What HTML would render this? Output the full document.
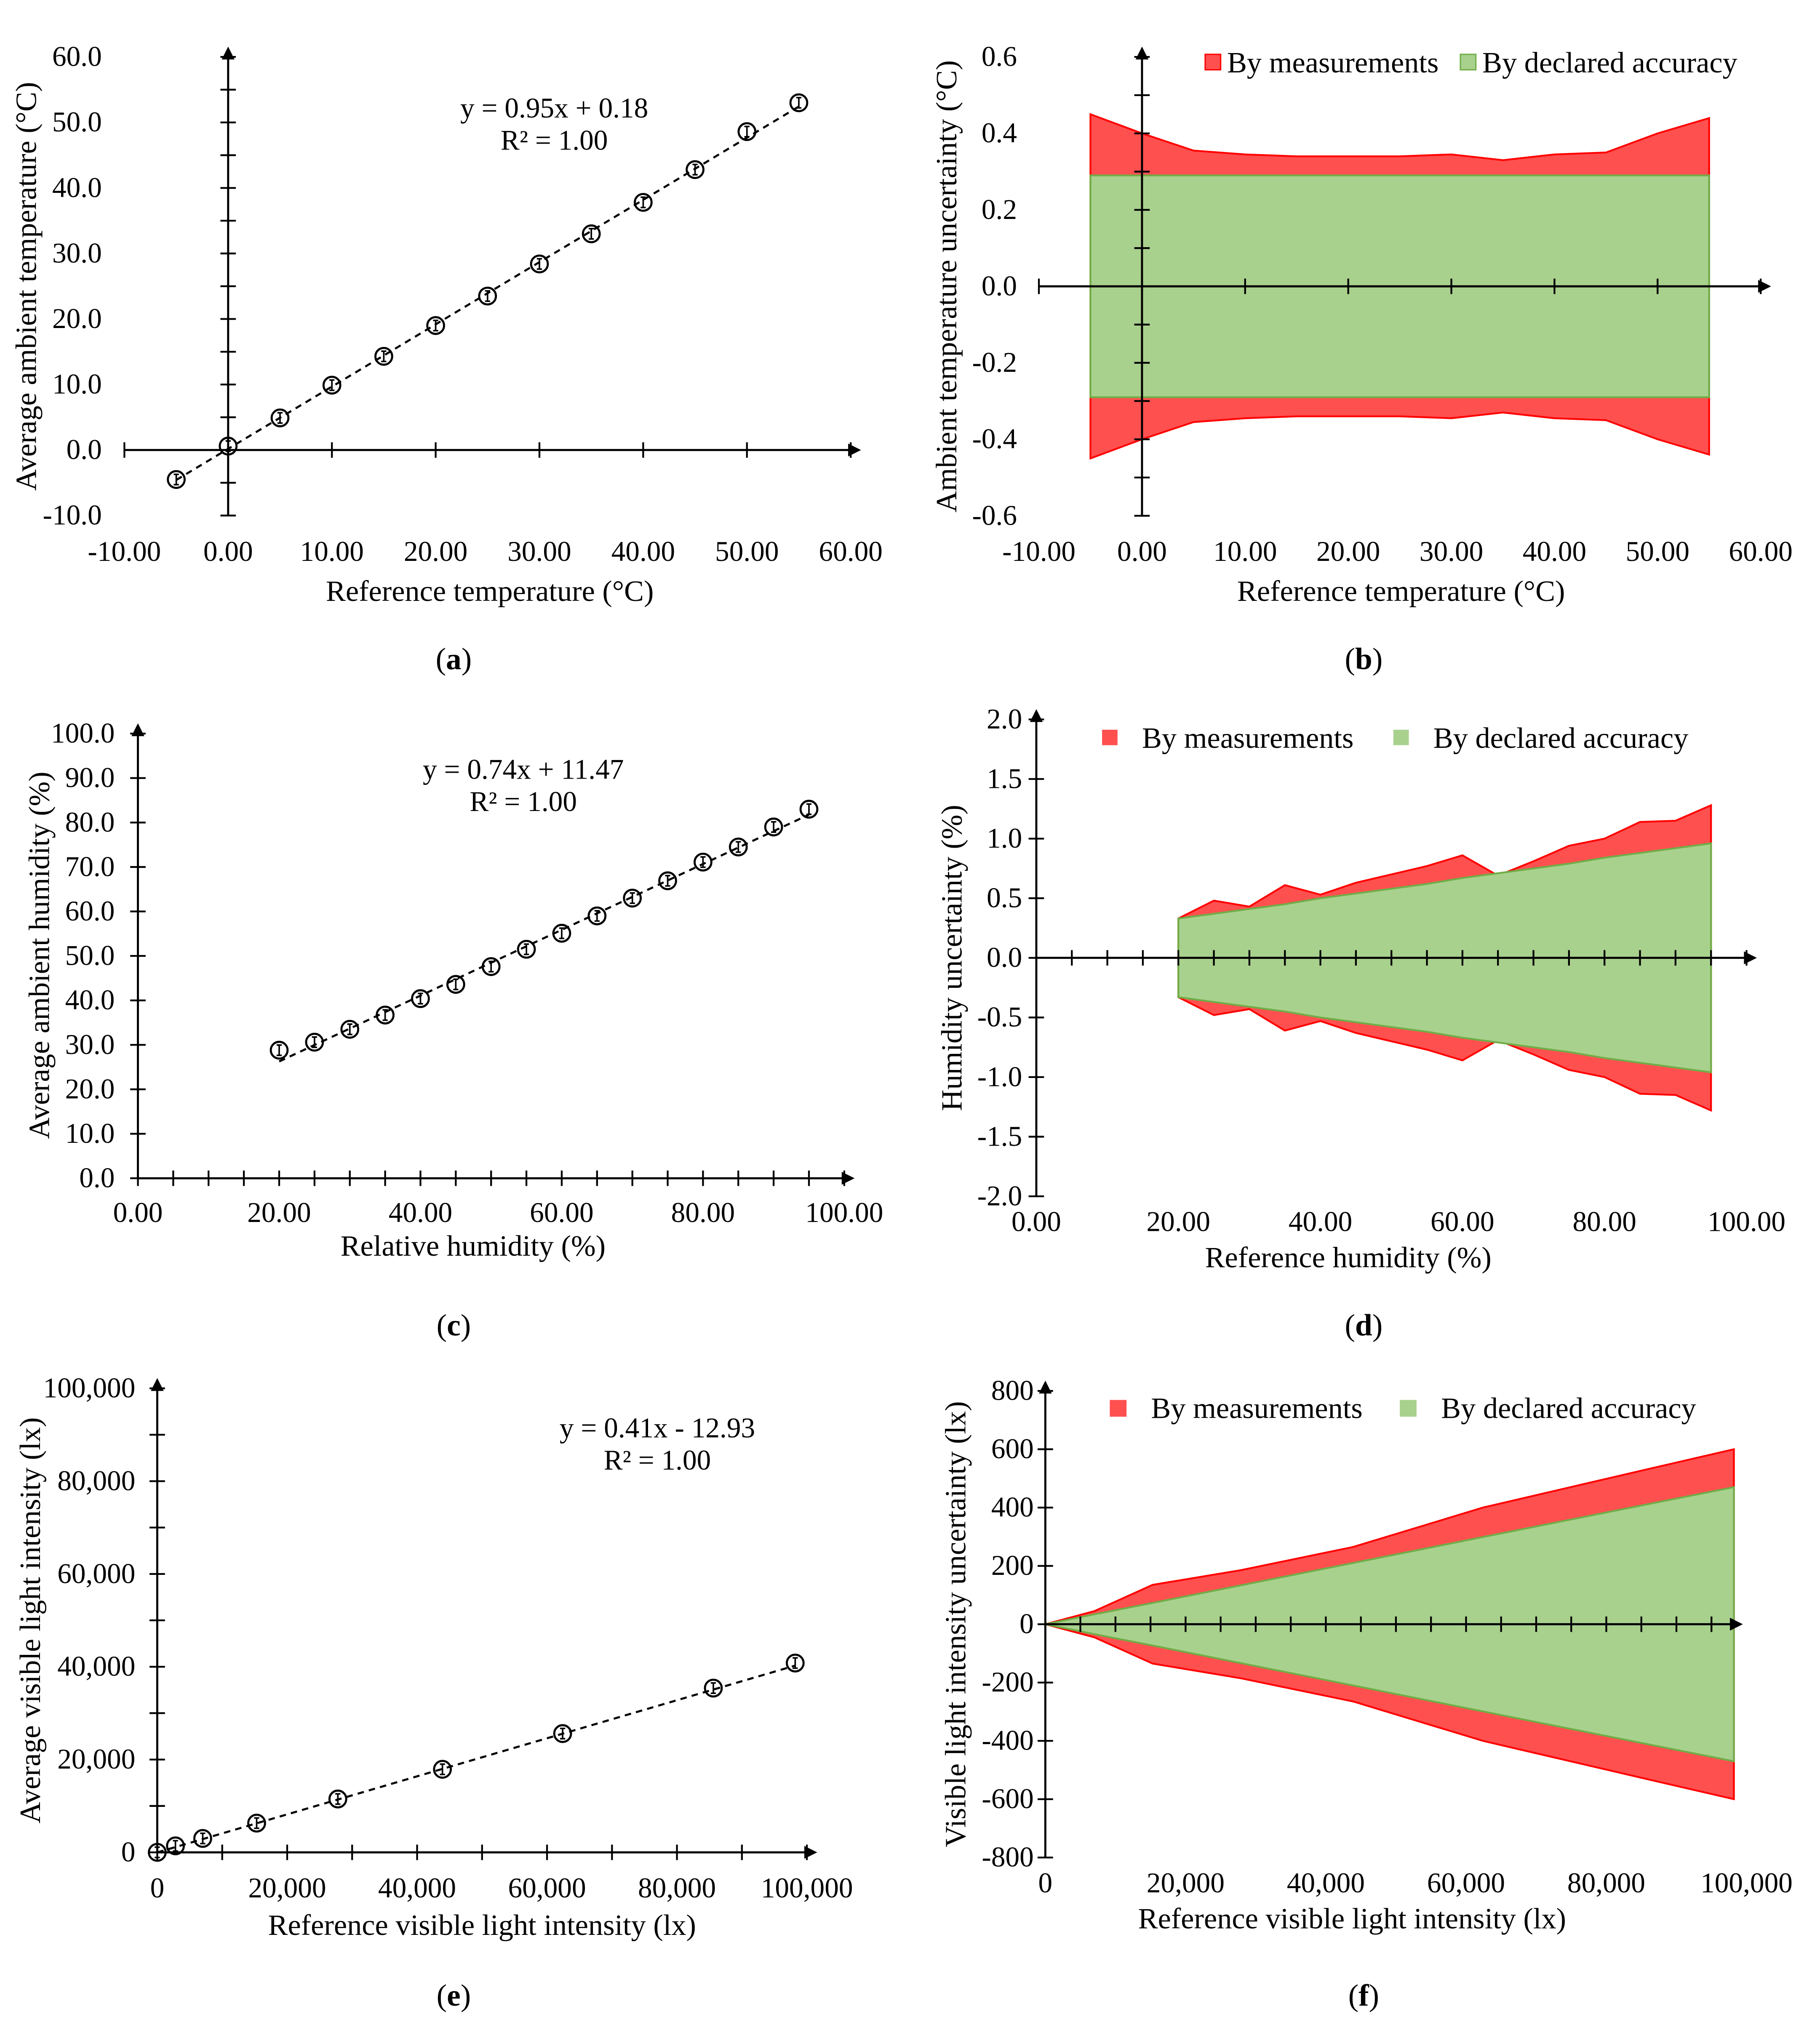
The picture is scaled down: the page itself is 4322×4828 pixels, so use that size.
<!DOCTYPE html>
<html><head><meta charset="utf-8">
<style>
html,body{margin:0;padding:0;background:#fff;}
svg{display:block;font-family:"Liberation Serif",serif;}
</style></head>
<body>
<svg id="chart" width="4322" height="4828" viewBox="0 0 1412 1577" xmlns="http://www.w3.org/2000/svg">
<rect width="1412" height="1577" fill="#fff"/>
<g id="root"></g>
</svg>
<script>
// Panel (a)
const aX = [-5,0,5,10,15,20,25,30,35,40,45,50,55];
const aY = [-4.5,0.6,4.9,9.9,14.3,19.0,23.5,28.4,33.0,37.8,42.8,48.6,53.0];
const aXTicks = ["-10.00","0.00","10.00","20.00","30.00","40.00","50.00","60.00"];
const aYTicks = ["-10.0","0.0","10.0","20.0","30.0","40.0","50.0","60.0"];
// Panel (b)
const bX = [-5,0,5,10,15,20,25,30,35,40,45,50,55];
const bMeas = [0.45,0.40,0.355,0.345,0.34,0.34,0.34,0.345,0.33,0.345,0.35,0.40,0.44];
const bDecl = [0.29,0.29,0.29,0.29,0.29,0.29,0.29,0.29,0.29,0.29,0.29,0.29,0.29];
const bXTicks = ["-10.00","0.00","10.00","20.00","30.00","40.00","50.00","60.00"];
const bYTicks = ["-0.6","-0.4","-0.2","0.0","0.2","0.4","0.6"];
// Panel (c)
const cX = [20,25,30,35,40,45,50,55,60,65,70,75,80,85,90,95];
const cY = [28.8,30.6,33.5,36.7,40.4,43.6,47.6,51.5,55.1,59.0,63.0,66.9,71.1,74.5,79.0,83.0];
const cXTicks = ["0.00","20.00","40.00","60.00","80.00","100.00"];
const cYTicks = ["0.0","10.0","20.0","30.0","40.0","50.0","60.0","70.0","80.0","90.0","100.0"];
// Panel (d)
const dX = [20,25,30,35,40,45,50,55,60,65,70,75,80,85,90,95];
const dMeas = [0.33,0.48,0.43,0.61,0.53,0.63,0.70,0.77,0.86,0.69,0.81,0.94,1.00,1.14,1.15,1.28];
const dDecl = [0.33,0.37,0.41,0.45,0.50,0.54,0.58,0.62,0.67,0.71,0.75,0.79,0.84,0.88,0.92,0.96];
const dXTicks = ["0.00","20.00","40.00","60.00","80.00","100.00"];
const dYTicks = ["-2.0","-1.5","-1.0","-0.5","0.0","0.5","1.0","1.5","2.0"];
// Panel (e)
const eX = [0,2800,7000,15300,27800,43900,62400,85600,98200];
const eY = [0,1400,3000,6300,11500,17900,25600,35400,40800];
const eXTicks = ["0","20,000","40,000","60,000","80,000","100,000"];
const eYTicks = ["0","20,000","40,000","60,000","80,000","100,000"];
// Panel (f)
const fX = [0,7000,15300,27800,43900,62400,85600,98200];
const fMeas = [0,45,135,185,265,400,530,600];
const fDecl = [0,34,73,133,210,299,410,470];
const fXTicks = ["0","20,000","40,000","60,000","80,000","100,000"];
const fYTicks = ["-800","-600","-400","-200","0","200","400","600","800"];

const NS="http://www.w3.org/2000/svg";
const root=document.getElementById('root');
const TICK_FS=22, TITLE_FS=23;
function mk(tag,attrs,parent,text){const e=document.createElementNS(NS,tag);for(const k in attrs)e.setAttribute(k,attrs[k]);if(text!==undefined)e.textContent=text;(parent||root).appendChild(e);return e;}
function lin(d0,d1,p0,p1){return v=>p0+(v-d0)*(p1-p0)/(d1-d0);}

function axes(g,sx,sy,xmin,xmax,xstep,xminor,ymin,ymax,ystep,yminor,x0,y0,xl,yl,xlabY,ylabX){
  const xa=mk('line',{x1:sx(xmin),y1:sy(y0),x2:sx(xmax)+2,y2:sy(y0),stroke:'#000','stroke-width':1.6},g);
  
  mk('path',{d:`M${sx(xmax)+8},${sy(y0)} l-10,-5 v10z`,fill:'#000'},g);
  for(let v=xmin;v<=xmax+1e-9;v+=xminor){mk('line',{x1:sx(v),y1:sy(y0)-6,x2:sx(v),y2:sy(y0)+6,stroke:'#000','stroke-width':1.4},g);}
  xl.forEach((t,i)=>{const v=xmin+i*xstep;const e=mk('text',{x:sx(v),y:xlabY,'text-anchor':'middle','font-size':TICK_FS},g,t);
    });
  const ya=mk('line',{x1:sx(x0),y1:sy(ymin),x2:sx(x0),y2:sy(ymax)-2,stroke:'#000','stroke-width':1.6},g);
  
  mk('path',{d:`M${sx(x0)},${sy(ymax)-8} l-5,10 h10z`,fill:'#000'},g);
  for(let v=ymin;v<=ymax+1e-9;v+=yminor){mk('line',{x1:sx(x0)-6,y1:sy(v),x2:sx(x0)+6,y2:sy(v),stroke:'#000','stroke-width':1.4},g);}
  yl.forEach((t,i)=>{const v=ymin+i*ystep;const e=mk('text',{x:ylabX,y:sy(v)+7,'text-anchor':'end','font-size':TICK_FS},g,t);
    });
}
function titles(g,xt,xx,xy,yt,yx,yy,cap,cx,cy){
  let e=mk('text',{x:xx,y:xy,'text-anchor':'middle','font-size':TITLE_FS},g,xt);
  
  e=mk('text',{x:yx,y:yy,'text-anchor':'middle','font-size':TITLE_FS,transform:`rotate(-90 ${yx} ${yy})`},g,yt);
  
  e=mk('text',{x:cx,y:cy,'text-anchor':'middle','font-size':24},g);
  
  mk('tspan',{},e,'(');mk('tspan',{'font-weight':'bold'},e,cap);mk('tspan',{},e,')');
}
function scatter(g,xs,ys,sx,sy,slope,icpt,eq1,eq2,ex,ey){
  const xa=xs[0],xb=xs[xs.length-1];
  const tl=mk('line',{x1:sx(xa),y1:sy(slope*xa+icpt),x2:sx(xb),y2:sy(slope*xb+icpt),stroke:'#000','stroke-width':1.6,'stroke-dasharray':'5,4'},g);
  
  xs.forEach((x,i)=>{const c=mk('circle',{cx:sx(x),cy:sy(ys[i]),r:6.5,fill:'none',stroke:'#000','stroke-width':1.6},g);
    
    mk('path',{d:`M${sx(x)-2},${sy(ys[i])-4}h4M${sx(x)},${sy(ys[i])-4}v8M${sx(x)-2},${sy(ys[i])+4}h4`,stroke:'#000','stroke-width':1.2,fill:'none'},g);});
  let e=mk('text',{x:ex,y:ey,'text-anchor':'middle','font-size':TITLE_FS-1},g,eq1);
  
  e=mk('text',{x:ex,y:ey+25,'text-anchor':'middle','font-size':TITLE_FS-1},g,eq2);
  
}
function band(g,xs,vals,sx,sy,fill,stroke,name){
  let up=xs.map((x,i)=>`${sx(x)},${sy(vals[i])}`);
  let dn=xs.map((x,i)=>`${sx(x)},${sy(-vals[i])}`).reverse();
  const p=mk('polygon',{points:up.concat(dn).join(' '),fill:fill,stroke:stroke,'stroke-width':1.4},g);
  
}
function legend(g,rx,gx,y,sz,outlined,gap){
  let r=mk('rect',{x:rx,y:y-7,width:sz,height:sz,fill:'#ff5050',stroke:outlined?'#f00':'none'},g);
  
  let t=mk('text',{x:rx+sz+gap,y:y+7,'font-size':TITLE_FS},g,'By measurements');
  
  r=mk('rect',{x:gx,y:y-7,width:sz,height:sz,fill:'#a9d18e',stroke:outlined?'#70ad47':'none'},g);
  
  t=mk('text',{x:gx+sz+gap,y:y+7,'font-size':TITLE_FS},g,'By declared accuracy');
  
}
function panel(name){const g=mk('g',{});return g;}

// (a)
{const g=panel('panel-a');const sx=lin(0,60,177,660),sy=lin(0,60,349,44);
 axes(g,sx,sy,-10,60,10,10,-10,60,10,5,0,0,aXTicks,aYTicks,435,79);
 scatter(g,aX,aY,sx,sy,0.95,0.18,'y = 0.95x + 0.18','R² = 1.00',430,91);
 titles(g,'Reference temperature (°C)',380,466,'Average ambient temperature (°C)',28,222,'a',352,519);}
// (b)
{const g=panel('panel-b');const sx=lin(0,60,886,1366),sy=lin(0,0.6,222,44);
 band(g,bX,bMeas,sx,sy,'#ff5050','#f00','band-measurements');
 band(g,bX,bDecl,sx,sy,'#a9d18e','#70ad47','band-declared');
 axes(g,sx,sy,-10,60,10,10,-0.6,0.6,0.2,0.1,0,0,bXTicks,bYTicks,435,789);
 legend(g,935,1133,49,12,true,5);
 titles(g,'Reference temperature (°C)',1087,466,'Ambient temperature uncertainty (°C)',742,222,'b',1058,519);}
// (c)
{const g=panel('panel-c');const sx=lin(0,100,107,655),sy=lin(0,100,914,569);
 axes(g,sx,sy,0,100,20,5,0,100,10,10,0,0,cXTicks,cYTicks,948,89);
 scatter(g,cX,cY,sx,sy,0.74,11.47,'y = 0.74x + 11.47','R² = 1.00',406,604);
 titles(g,'Relative humidity (%)',367,974,'Average ambient humidity (%)',38,741,'c',352,1036);}
// (d)
{const g=panel('panel-d');const sx=lin(0,100,804,1355),sy=lin(0,2,743,558);
 band(g,dX,dMeas,sx,sy,'#ff5050','#f00','band-measurements');
 band(g,dX,dDecl,sx,sy,'#a9d18e','#70ad47','band-declared');
 axes(g,sx,sy,0,100,20,5,-2,2,0.5,0.5,0,0,dXTicks,dYTicks,955,793);
 legend(g,855,1081,573,12,false,19);
 titles(g,'Reference humidity (%)',1046,983,'Humidity uncertainty (%)',746,743,'d',1058,1036);}
// (e)
{const g=panel('panel-e');const sx=lin(0,100000,122,626),sy=lin(0,100000,1437,1077);
 axes(g,sx,sy,0,100000,20000,10000,0,100000,20000,10000,0,0,eXTicks,eYTicks,1472,105);
 scatter(g,eX,eY,sx,sy,0.41,-12.93,'y = 0.41x - 12.93','R² = 1.00',510,1115);
 titles(g,'Reference visible light intensity (lx)',374,1501,'Average visible light intensity (lx)',31,1257,'e',352,1556);}
// (f)
{const g=panel('panel-f');const sx=lin(0,100000,811,1355),sy=lin(0,800,1260,1079);
 band(g,fX,fMeas,sx,sy,'#ff5050','#f00','band-measurements');
 band(g,fX,fDecl,sx,sy,'#a9d18e','#70ad47','band-declared');
 axes(g,sx,sy,0,98000,20000,5000,-800,800,200,200,0,0,fXTicks,fYTicks,1468,802);
 legend(g,861,1086,1093,13,false,19);
 titles(g,'Reference visible light intensity (lx)',1049,1496,'Visible light intensity uncertainty (lx)',749,1260,'f',1058,1556);}
</script>
</body></html>
